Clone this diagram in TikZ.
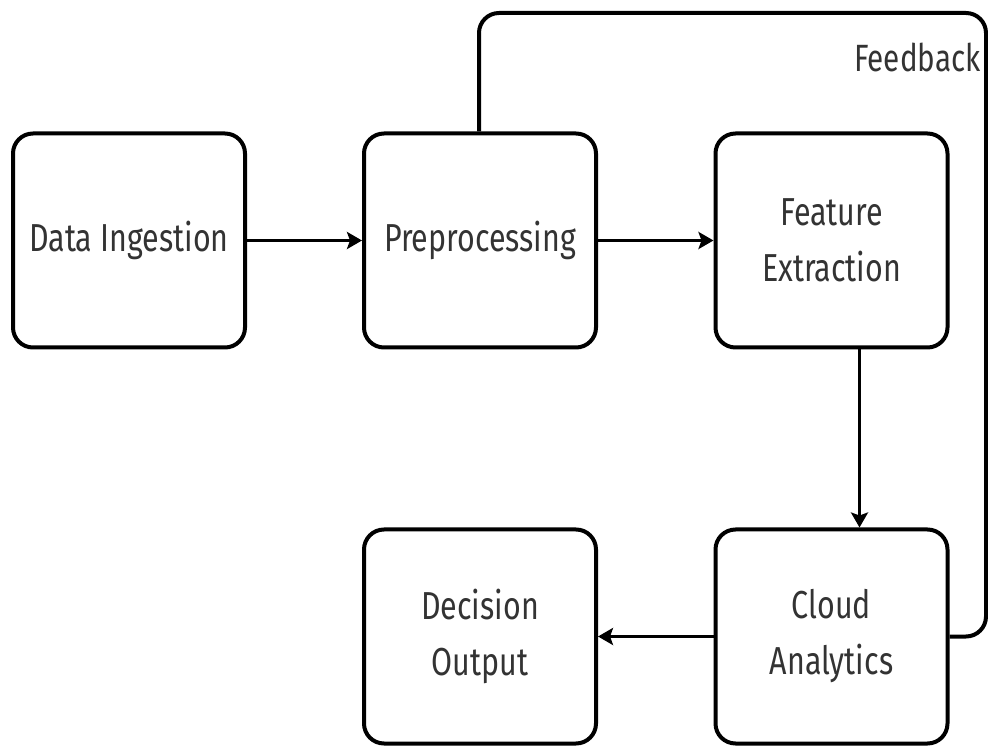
\documentclass[tikz,border=0pt]{standalone}
\usepackage{fontspec}
\setmainfont{Fira Sans}[FakeStretch=0.78]
\usetikzlibrary{arrows.meta}
\begin{document}
\begin{tikzpicture}[x=1pt,y=1pt,
  box/.style={draw=black, line width=4pt, rounded corners=20pt, minimum width=232pt, minimum height=214pt, align=center, font=\fontsize{39}{56}\selectfont, text=black!80},
  conn/.style={line width=3.8pt, -{Stealth[length=15pt,width=17pt,inset=3pt]}},
  fb/.style={line width=4pt, rounded corners=20pt}]
\useasboundingbox (0,0) rectangle (988,745);
\node[box] (di) at (129,504.5) {Data Ingestion};
\node[box] (pp) at (480,504.5) {Preprocessing};
\node[box] (fe) at (831.5,504.5) {Feature\\Extraction};
\node[box] (do) at (480,108.5) {Decision\\Output};
\node[box] (ca) at (831.5,108.5) {Cloud\\Analytics};
\draw[conn] (di.east) -- (pp.west);
\draw[conn] (pp.east) -- (fe.west);
\draw[conn] ([xshift=28pt]fe.south) -- ([xshift=28pt]ca.north);
\draw[conn] (ca.west) -- (do.east);
\coordinate (t1) at (479,732);
\coordinate (t2) at (986,732);
\coordinate (t3) at (986,108.5);
\draw[fb] ([xshift=-1pt]pp.north) -- (t1) -- (t2) -- (t3) -- (ca.east);
\node[anchor=east, font=\fontsize{38}{40}\selectfont, text=black!80] (fl) at (984,688) {Feedback};
\end{tikzpicture}
\end{document}
